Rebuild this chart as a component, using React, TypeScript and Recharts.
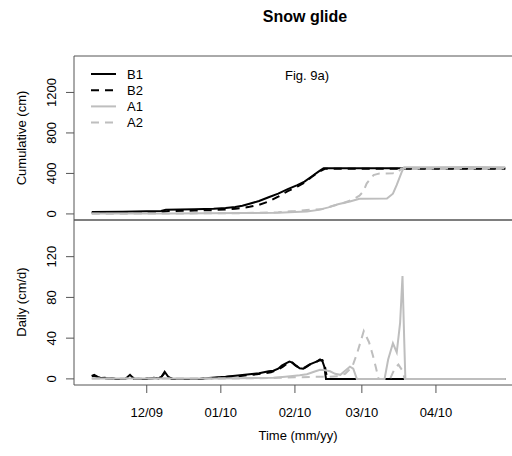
import React from 'react';
import { LineChart, Line, XAxis, YAxis, ReferenceArea } from 'recharts';

// ---------- data (day index: 0 = 1 Nov 2009) ----------
const xTickDays = [30, 61, 92, 120, 151];
const xTickLabels = ['12/09', '01/10', '02/10', '03/10', '04/10'];
const cumTicks = [0, 400, 800, 1200];
const dailyTicks = [0, 40, 80, 120];

const seriesNames = ['B1', 'B2', 'A1', 'A2'];

// cumulative (cm)
const b1CumDays = [7, 20, 30, 36, 38, 50, 58, 63, 67, 70, 73, 77, 81, 85, 89, 93, 96, 99, 102, 104, 180];
const b1CumVals = [18, 22, 26, 30, 42, 46, 50, 58, 68, 80, 100, 128, 165, 200, 245, 285, 320, 370, 420, 452, 452];
const b2CumDays = [7, 20, 30, 37, 39, 50, 58, 63, 67, 70, 73, 77, 81, 85, 89, 93, 96, 99, 102, 104.5, 180];
const b2CumVals = [10, 13, 16, 20, 28, 33, 38, 44, 52, 60, 70, 90, 122, 170, 225, 270, 310, 365, 415, 446, 446];
const a1CumDays = [7, 40, 70, 85, 92, 97, 102, 106, 110, 115, 119, 130.5, 133, 134.6, 136.7, 137.7, 150, 165, 180];
const a1CumVals = [3, 5, 8, 12, 18, 24, 40, 65, 95, 122, 150, 152, 200, 286, 416, 462, 460, 463, 460];
const a2CumDays = [7, 40, 70, 85, 92, 97, 103, 108, 112, 116, 119, 120.7, 122, 124.9, 127, 133, 135, 136.5, 180];
const a2CumVals = [2, 4, 8, 16, 28, 40, 45, 80, 105, 140, 180, 225, 300, 384, 398, 402, 410, 448, 452];

// daily (cm/d)
const b1DayDays = [7, 8, 9.5, 11, 12.5, 14, 15.5, 17, 21, 23, 24.7, 30, 33, 35, 36.2, 37.5, 39, 40.5, 52, 56, 60, 63, 66, 69, 72, 75, 77, 79, 81, 83, 85, 86.5, 88, 89.7, 91, 92.5, 94, 95.5, 97, 98.5, 100, 101.5, 102.5, 103.5, 104.3, 105, 180];
const b1DayVals = [3, 4, 2, 0.8, 1, 0.5, 0.8, 0, 0, 4, 0, 0, 1, 0.5, 2, 7, 2, 0, 0, 0.8, 1.5, 2, 2.8, 3.5, 4.2, 5, 5.5, 6.5, 7.5, 8, 10, 13, 15, 17, 16, 13, 10.5, 10, 12, 14.5, 16, 17.5, 19, 17.5, 12, 0, 0];
const b2DayDays = [7, 8, 9.5, 12, 14, 17, 21, 23, 25, 33, 36, 37.5, 39, 41, 52, 56, 60, 64, 68, 72, 76, 79, 82, 85, 87, 89, 90.5, 92, 94, 96, 98, 100, 102, 103.5, 104.5, 105.5, 180];
const b2DayVals = [2.5, 3, 1.5, 0.5, 0.5, 0, 0, 3, 0, 0.5, 1.5, 6, 1.5, 0, 0, 0.5, 1.2, 2, 2.6, 3.5, 4.5, 5.5, 6.5, 9, 12, 15.5, 16.5, 13.5, 10.5, 11, 14, 15.5, 18, 18.5, 13, 0, 0];
const a1DayDays = [7, 20, 40, 60, 75, 83, 88, 92, 94, 97, 100, 102.5, 104.5, 106.7, 108.8, 111, 113, 115, 116.4, 117.9, 129.5, 131, 133, 134.6, 136, 137, 137.7, 138.2, 180];
const a1DayVals = [0.5, 0.5, 0.3, 0.5, 0.8, 1, 2, 3, 3.5, 4.5, 7, 9, 8.5, 7.5, 5, 4, 8, 12, 10, 0, 0, 19, 35, 26, 55, 101, 40, 0, 0];
const a2DayDays = [7, 40, 70, 85, 92, 100, 105, 110, 113, 116, 118, 120.8, 123, 124.5, 125.8, 127, 131.8, 133.9, 135.3, 136.7, 138, 180];
const a2DayVals = [0.3, 0.3, 0.5, 1, 1.5, 2, 2, 2.5, 5, 12, 25, 47, 36, 24, 12, 0, 0, 11, 14, 9, 0, 0];

// ---------- helpers ----------
const toPoints = (days: number[], vals: number[]) => days.map((d, i) => ({ day: d, v: vals[i] }));

const FONT = '"Liberation Sans", Arial, Helvetica, sans-serif';
const BLACK = '#000000';
const GRAY = '#bebebe';
const DASH = '8 6';
const xDomain: [number, number] = [-0.43, 187];
const cumDomain: [number, number] = [-60, 1560];
const dailyDomain: [number, number] = [-6, 156];

const styles = [
  { name: seriesNames[0], color: BLACK, dash: undefined as string | undefined },
  { name: seriesNames[1], color: BLACK, dash: DASH },
  { name: seriesNames[2], color: GRAY, dash: undefined as string | undefined },
  { name: seriesNames[3], color: GRAY, dash: DASH },
];

const cumData = [
  toPoints(b1CumDays, b1CumVals),
  toPoints(b2CumDays, b2CumVals),
  toPoints(a1CumDays, a1CumVals),
  toPoints(a2CumDays, a2CumVals),
];
const dailyData = [
  toPoints(b1DayDays, b1DayVals),
  toPoints(b2DayDays, b2DayVals),
  toPoints(a1DayDays, a1DayVals),
  toPoints(a2DayDays, a2DayVals),
];

const drawOrder = [0, 1, 2, 3];

const YTick = (props: any) => {
  const { y, payload } = props;
  return (
    <text
      x={52}
      y={y}
      transform={`rotate(-90, 52, ${y})`}
      textAnchor="middle"
      dominantBaseline="central"
      fontSize={13}
      fontFamily={FONT}
      fill="#000"
    >
      {payload.value}
    </text>
  );
};

const XTick = (props: any) => {
  const { x, payload } = props;
  const idx = xTickDays.indexOf(payload.value);
  return (
    <text x={x} y={416.5} textAnchor="middle" fontSize={13} fontFamily={FONT} fill="#000">
      {idx >= 0 ? xTickLabels[idx] : ''}
    </text>
  );
};

const EmptyTick = () => <g />;

export default function App() {
  return (
    <div style={{ position: 'absolute', left: 0, top: 0, width: 512, height: 456, overflow: 'hidden', background: '#fff' }}>
      {/* top panel: cumulative */}
      <div style={{ position: 'absolute', left: 0, top: 0 }}>
        <LineChart width={540} height={456} margin={{ top: 56, right: 18, bottom: 236, left: 0 }}>
          <XAxis type="number" dataKey="day" domain={xDomain} hide allowDataOverflow />
          <YAxis
            type="number"
            domain={cumDomain}
            ticks={cumTicks}
            width={74}
            tickSize={8}
            axisLine={false}
            tickLine={{ stroke: '#555' }}
            tick={<YTick />}
            allowDataOverflow
          />
          <ReferenceArea x1={xDomain[0]} x2={xDomain[1]} y1={cumDomain[0]} y2={cumDomain[1]} fill="none" fillOpacity={0} stroke="#555" strokeWidth={1} />
          {drawOrder.map((i) => (
            <Line
              key={'c' + i}
              data={cumData[i]}
              dataKey="v"
              name={styles[i].name}
              type="linear"
              stroke={styles[i].color}
              strokeWidth={2}
              strokeDasharray={styles[i].dash}
              dot={false}
              activeDot={false}
              isAnimationActive={false}
            />
          ))}
        </LineChart>
      </div>

      {/* bottom panel: daily */}
      <div style={{ position: 'absolute', left: 0, top: 0 }}>
        <LineChart width={540} height={456} margin={{ top: 220, right: 18, bottom: 41, left: 0 }}>
          <XAxis
            xAxisId="b"
            type="number"
            dataKey="day"
            domain={xDomain}
            ticks={xTickDays}
            height={30}
            tickSize={8}
            axisLine={false}
            tickLine={{ stroke: '#555' }}
            tick={<XTick />}
            allowDataOverflow
            interval={0}
          />
          <XAxis
            xAxisId="t"
            orientation="top"
            mirror
            type="number"
            dataKey="day"
            domain={xDomain}
            ticks={xTickDays}
            height={0}
            tickSize={8}
            axisLine={false}
            tickLine={{ stroke: '#555' }}
            tick={<EmptyTick />}
            allowDataOverflow
            interval={0}
          />
          <YAxis
            type="number"
            domain={dailyDomain}
            ticks={dailyTicks}
            width={74}
            tickSize={8}
            axisLine={false}
            tickLine={{ stroke: '#555' }}
            tick={<YTick />}
            allowDataOverflow
          />
          <ReferenceArea xAxisId="b" x1={xDomain[0]} x2={xDomain[1]} y1={dailyDomain[0]} y2={dailyDomain[1]} fill="none" fillOpacity={0} stroke="#555" strokeWidth={1} />
          {drawOrder.map((i) => (
            <Line
              key={'d' + i}
              xAxisId="b"
              data={dailyData[i]}
              dataKey="v"
              name={styles[i].name}
              type="linear"
              stroke={styles[i].color}
              strokeWidth={2}
              strokeDasharray={styles[i].dash}
              dot={false}
              activeDot={false}
              isAnimationActive={false}
            />
          ))}
        </LineChart>
      </div>

      {/* titles and legend */}
      <svg width={512} height={456} style={{ position: 'absolute', left: 0, top: 0, pointerEvents: 'none' }}>
        <text x={305} y={22} textAnchor="middle" fontSize={16} fontWeight="bold" fontFamily={FONT} fill="#000">
          Snow glide
        </text>
        <text x={21} y={138} transform="rotate(-90, 21, 138)" textAnchor="middle" dominantBaseline="central" fontSize={13} fontFamily={FONT} fill="#000">
          Cumulative (cm)
        </text>
        <text x={21} y={302} transform="rotate(-90, 21, 302)" textAnchor="middle" dominantBaseline="central" fontSize={13} fontFamily={FONT} fill="#000">
          Daily (cm/d)
        </text>
        <text x={298} y={440} textAnchor="middle" fontSize={13} fontFamily={FONT} fill="#000">
          Time (mm/yy)
        </text>
        <text x={285} y={79.5} fontSize={13} fontFamily={FONT} fill="#000">
          Fig. 9a)
        </text>
        {styles.map((s, i) => {
          const y = 74 + i * 16.2;
          return (
            <g key={s.name}>
              <line x1={91} y1={y} x2={116} y2={y} stroke={s.color} strokeWidth={2} strokeDasharray={s.dash} />
              <text x={127} y={y + 4.5} fontSize={13} fontFamily={FONT} fill="#000">
                {s.name}
              </text>
            </g>
          );
        })}
      </svg>
    </div>
  );
}
